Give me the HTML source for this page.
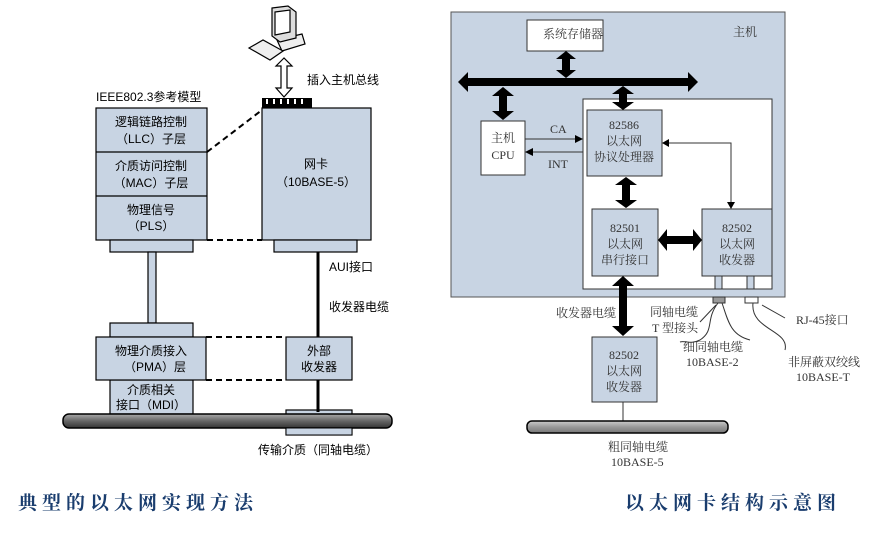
<!DOCTYPE html>
<html><head><meta charset="utf-8"><style>
body{margin:0;background:#fff;width:875px;height:532px;overflow:hidden}
text{font-family:"Liberation Sans","WenQuanYi Zen Hei","Noto Sans CJK SC",sans-serif;font-size:12px;fill:#000}
.s{font-family:"Liberation Serif","Noto Serif CJK SC",serif;fill:#333}
.t{font-family:"Liberation Serif","Noto Serif CJK SC",serif;font-size:19px;font-weight:bold;fill:#1a3d6e;letter-spacing:5px}
</style></head><body>
<svg width="875" height="532" viewBox="0 0 875 532" xmlns="http://www.w3.org/2000/svg">
<defs>
<linearGradient id="cab" x1="0" y1="0" x2="0" y2="1"><stop offset="0" stop-color="#aaa"/><stop offset="0.5" stop-color="#666"/><stop offset="1" stop-color="#333"/></linearGradient>
<linearGradient id="cab2" x1="0" y1="0" x2="0" y2="1"><stop offset="0" stop-color="#ccc"/><stop offset="0.5" stop-color="#999"/><stop offset="1" stop-color="#777"/></linearGradient>
</defs>
<g stroke="#000" stroke-width="1.2" fill="#c8d4e3">
<!-- computer -->
<path d="M277 40 L302 34 L305 44 L282 51 Z" fill="#eee"/>
<path d="M272 8 L288 6 L296 12 L296 38 L280 42 L272 36 Z" fill="#ddd"/>
<path d="M275 12 L290 10 L290 32 L275 35 Z" fill="#fff"/>
<path d="M249 48 L263 40 L283 51 L270 60 Z" fill="#eee"/>
<!-- white arrow -->
<path d="M284 58 L276 66 L281 66 L281 88 L276 88 L284 97 L292 88 L287 88 L287 66 L292 66 Z" fill="#fff"/>
<!-- left stack -->
<rect x="96" y="108" width="111" height="132"/>
<line x1="96" y1="152" x2="207" y2="152"/><line x1="96" y1="196" x2="207" y2="196"/>
<rect x="110" y="240" width="83" height="12"/>
<rect x="148" y="252" width="8" height="71"/>
<rect x="110" y="323" width="83" height="14"/>
<rect x="110" y="380" width="83" height="34"/>
<rect x="96" y="337" width="110" height="43"/>
<!-- nic -->
<rect x="262" y="108" width="109" height="132"/>
<rect x="274" y="240" width="83" height="12"/>
<rect x="286" y="337" width="66" height="43"/>
<rect x="286" y="410" width="66" height="25"/>
</g>
<rect x="262" y="98" width="50" height="10" fill="#000"/>
<g fill="#fff"><rect x="266" y="99" width="2" height="5"/><rect x="273" y="99" width="2" height="5"/><rect x="280" y="99" width="2" height="5"/><rect x="287" y="99" width="2" height="5"/><rect x="294" y="99" width="2" height="5"/><rect x="301" y="99" width="2" height="5"/></g>
<g stroke="#000" stroke-width="2" stroke-dasharray="6,4" fill="none">
<line x1="207" y1="152" x2="262" y2="110"/><line x1="207" y1="240" x2="262" y2="240"/>
<line x1="206" y1="337" x2="286" y2="337"/><line x1="206" y1="380" x2="286" y2="380"/>
</g>
<line x1="318" y1="252" x2="318" y2="337" stroke="#000" stroke-width="3"/>
<line x1="318" y1="380" x2="318" y2="412" stroke="#000" stroke-width="3"/>
<rect x="63" y="414" width="329" height="14" rx="6" fill="url(#cab)" stroke="#000" stroke-width="1.5"/>
<rect x="286" y="428" width="66" height="7" fill="#c8d4e3" stroke="#000"/>
<text x="307" y="84">插入主机总线</text>
<text x="96" y="101" font-size="11">IEEE802.3参考模型</text>
<text x="151" y="126" text-anchor="middle">逻辑链路控制</text><text x="151" y="143" text-anchor="middle">（LLC）子层</text>
<text x="151" y="170" text-anchor="middle">介质访问控制</text><text x="151" y="187" text-anchor="middle">（MAC）子层</text>
<text x="151" y="214" text-anchor="middle">物理信号</text><text x="151" y="230" text-anchor="middle" font-size="11">（PLS）</text>
<text x="316" y="168" text-anchor="middle">网卡</text><text x="316" y="186" text-anchor="middle" font-size="11">（10BASE-5）</text>
<text x="329" y="271" font-size="11">AUI接口</text><text x="329" y="311">收发器电缆</text>
<text x="151" y="355" text-anchor="middle">物理介质接入</text><text x="155" y="371" text-anchor="middle">（PMA）层</text>
<text x="151" y="394" text-anchor="middle">介质相关</text><text x="151" y="409" text-anchor="middle" font-size="11">接口（MDI）</text>
<text x="319" y="355" text-anchor="middle">外部</text><text x="319" y="371" text-anchor="middle">收发器</text>
<text x="258" y="454">传输介质（同轴电缆）</text>
<text x="18" y="509" class="t">典型的以太网实现方法</text>

<!-- right -->
<rect x="451" y="12" width="334" height="285" fill="#c8d4e3" stroke="#555"/>
<rect x="527" y="20" width="76" height="31" fill="#fff" stroke="#333"/>
<rect x="583" y="99" width="189" height="190" fill="#fff" stroke="#333"/>
<rect x="481" y="121" width="44" height="54" fill="#fff" stroke="#333"/>
<g fill="#c8d4e3" stroke="#333">
<rect x="587" y="110" width="75" height="66"/><rect x="592" y="209" width="66" height="67"/><rect x="702" y="209" width="70" height="67"/>
<rect x="715" y="276" width="7" height="13"/><rect x="747" y="276" width="7" height="13"/>
<rect x="592" y="337" width="65" height="65"/>
</g>
<rect x="713" y="297" width="12" height="6" fill="#999" stroke="#333"/>
<rect x="745" y="297" width="13" height="6" fill="#fff" stroke="#333"/>
<g fill="#000">
<path d="M458 82 L468 72 L468 78 L688 78 L688 72 L698 82 L688 92 L688 86 L468 86 L468 92 Z"/>
<path d="M566 51 L576 59 L570 59 L570 70 L576 70 L566 78 L556 70 L562 70 L562 59 L556 59 Z"/>
<path d="M503 87 L514 96 L507 96 L507 111 L514 111 L503 120 L492 111 L499 111 L499 96 L492 96 Z"/>
<path d="M623 86 L634 94 L627 94 L627 102 L634 102 L623 110 L612 102 L619 102 L619 94 L612 94 Z"/>
<path d="M626 177 L637 185 L630 185 L630 200 L637 200 L626 208 L615 200 L622 200 L622 185 L615 185 Z"/>
<path d="M658 240 L667 229 L667 236 L693 236 L693 229 L702 240 L693 251 L693 244 L667 244 L667 251 Z"/>
<path d="M623 276 L634 286 L627 286 L627 326 L634 326 L623 336 L612 326 L619 326 L619 286 L612 286 Z"/>
</g>
<g stroke="#333" stroke-width="1" fill="none">
<line x1="525" y1="139" x2="580" y2="139"/><line x1="583" y1="152" x2="528" y2="152"/>
<polyline points="666,143 731,143 731,206"/>
<line x1="623" y1="402" x2="623" y2="421"/>
<path d="M718 303 C705 320 715 330 700 340 C690 345 685 340 680 342"/>
<path d="M722 303 C728 320 730 335 750 340"/>
<path d="M753 303 C750 330 790 330 785 350"/>
<line x1="700" y1="322" x2="716" y2="305"/><line x1="785" y1="318" x2="762" y2="305"/>
</g>
<g fill="#000"><path d="M583 139 L575 135 L575 143Z"/><path d="M525 152 L533 148 L533 156Z"/><path d="M662 143 L669 139 L669 147Z"/><path d="M731 209 L727 202 L735 202Z"/></g>
<rect x="527" y="421" width="201" height="12" rx="5" fill="url(#cab2)" stroke="#000" stroke-width="1.5"/>
<g class="s">
<text x="543" y="38" class="s">系统存储器</text><text x="733" y="36" class="s">主机</text>
<text x="503" y="142" text-anchor="middle" class="s">主机</text><text x="503" y="159" text-anchor="middle" class="s" font-size="11">CPU</text>
<text x="550" y="133" class="s" font-size="11">CA</text><text x="548" y="168" class="s" font-size="11">INT</text>
<text x="624" y="129" text-anchor="middle" class="s">82586</text><text x="624" y="145" text-anchor="middle" class="s">以太网</text><text x="624" y="161" text-anchor="middle" class="s">协议处理器</text>
<text x="625" y="232" text-anchor="middle" class="s">82501</text><text x="625" y="248" text-anchor="middle" class="s">以太网</text><text x="625" y="264" text-anchor="middle" class="s">串行接口</text>
<text x="737" y="232" text-anchor="middle" class="s">82502</text><text x="737" y="248" text-anchor="middle" class="s">以太网</text><text x="737" y="264" text-anchor="middle" class="s">收发器</text>
<text x="624" y="359" text-anchor="middle" class="s">82502</text><text x="624" y="375" text-anchor="middle" class="s">以太网</text><text x="624" y="391" text-anchor="middle" class="s">收发器</text>
<text x="556" y="317" class="s">收发器电缆</text>
<text x="650" y="316" class="s">同轴电缆</text><text x="652" y="332" class="s">T 型接头</text>
<text x="683" y="351" class="s">细同轴电缆</text><text x="686" y="366" class="s">10BASE-2</text>
<text x="796" y="324" class="s">RJ-45接口</text>
<text x="788" y="366" class="s">非屏蔽双绞线</text><text x="796" y="381" class="s">10BASE-T</text>
<text x="608" y="451" class="s">粗同轴电缆</text><text x="611" y="466" class="s">10BASE-5</text>
</g>
<text x="625" y="509" class="t">以太网卡结构示意图</text>
</svg>
</body></html>
